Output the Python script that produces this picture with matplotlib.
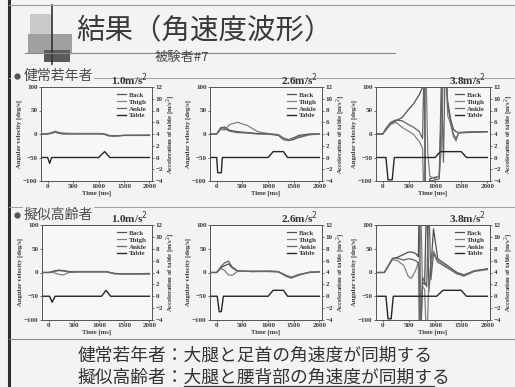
import matplotlib
matplotlib.use("Agg")
import matplotlib.pyplot as plt
from matplotlib.patches import Rectangle

W, H = 515, 387

# 健常若年者 1.0 m/s^2
t_y10 = [-150, 0, 100, 150, 200, 300, 500, 800, 1000, 1100, 1200, 1300, 1500, 2000]
back_y10 = [0, 0, 3, 5, 3, 1, 1, 1, 1, 0, -4, -4, -3, -3]
thigh_y10 = [0, 1, 4, 6, 4, 2, 1, 1, 1, 1, -3, -5, -3, -2]
ankle_y10 = [0, 0, 2, 4, 2, 0, 0, 0, 0, 0, -3, -4, -3, -3]
tt_y10 = [-150, 0, 40, 80, 1000, 1120, 1220, 2000]
table_y10 = [0, 0, -1.0, 0, 0, 1.0, 0, 0]

# 健常若年者 2.6 m/s^2
t_y26 = [-150, 0, 80, 150, 250, 400, 600, 800, 1000, 1200, 1300, 1400, 1500, 1600, 1800, 2000]
back_y26 = [0, 0, 12, 15, 8, 5, 3, 1, 0, -2, -10, -12, -8, -3, 0, 0]
thigh_y26 = [0, 0, 10, 8, 20, 25, 18, 5, 1, -1, -8, -12, -10, -8, -2, 0]
ankle_y26 = [0, 0, 14, 12, 6, 3, 2, 0, 0, -3, -12, -14, -12, -6, -1, 0]
tt_y26 = [-150, 0, 20, 90, 110, 1000, 1100, 1300, 1380, 2000]
table_y26 = [0, 0, -2.6, -2.6, 0, 0, 1.0, 1.0, 0, 0]

# 健常若年者 3.8 m/s^2
t_y38 = [-150, 0, 60, 150, 250, 370, 490, 580, 700, 760, 790, 820, 860, 900, 1000,
         1080, 1120, 1160, 1200, 1240, 1300, 1350, 1400, 1450, 1600, 1800, 2000]
back_y38 = [0, 0, 10, 22, 28, 35, 52, 63, 84, 100, 180, -160, -120, -95, -92,
            -90, 60, 160, 120, 70, 30, 10, 5, 3, 4, 5, 5]
thigh_y38 = [0, 0, 8, 20, 25, 14, 6, 0, -16, -30, -170, 170, -40, -90, -95,
             -88, -30, 150, 180, 40, 20, -5, -15, 3, 4, 4, 5]
ankle_y38 = [0, 0, 12, 25, 30, 28, 20, 15, 5, -10, 150, -150, -170, -100, -98,
             -95, 120, -60, 200, 60, 25, 0, -10, 2, 3, 4, 5]
tt_y38 = [-150, 60, 100, 180, 220, 1000, 1100, 1500, 1600, 2000]
table_y38 = [0, 0, -3.8, -3.8, 0, 0, 1.0, 1.0, 0, 0]

# 擬似高齢者 1.0 m/s^2
t_o10 = [-150, 0, 100, 200, 300, 400, 600, 1000, 1150, 1300, 1500, 2000]
back_o10 = [0, 0, 3, 5, 4, 2, 2, 2, 2, -2, -3, -3]
thigh_o10 = [0, 0, 0, -4, -5, 0, 2, 2, 2, -3, -3, -3]
ankle_o10 = [0, 0, 2, 4, 3, 1, 1, 1, 1, -2, -3, -2]
tt_o10 = [-150, 20, 70, 130, 1050, 1140, 1230, 2000]
table_o10 = [0, 0, -1.0, 0, 0, 1.0, 0, 0]

# 擬似高齢者 2.6 m/s^2
t_o26 = [-150, 0, 80, 150, 230, 300, 400, 700, 1000, 1200, 1350, 1450, 1600, 1800, 2000]
back_o26 = [0, 0, 10, 14, 18, 10, 3, 2, 3, 2, -6, -10, -5, 0, 2]
thigh_o26 = [0, 0, 8, 5, -5, -6, 2, 3, 3, 2, -8, -12, -6, 1, 2]
ankle_o26 = [0, 0, 12, 20, 24, 12, 4, 2, 2, 1, -7, -11, -4, 0, 1]
tt_o26 = [-150, 10, 50, 90, 130, 1000, 1100, 1300, 1380, 2000]
table_o26 = [0, 0, -2.6, -2.6, 0, 0, 1.0, 1.0, 0, 0]

# 擬似高齢者 3.8 m/s^2
t_o38 = [-150, 30, 185, 280, 400, 490, 550, 630, 680, 700, 720, 760, 800, 840,
         880, 920, 970, 1050, 1230, 1420, 1550, 1750, 2000]
back_o38 = [0, 0, 29, 32, 38, 43, 43, 40, 33, 180, -160, -20, -25, 170,
            -40, 10, 92, 29, 15, 0, -5, 3, 8]
thigh_o38 = [0, 0, 27, 25, 15, -9, -12, 5, 22, -170, 170, -30, -35, -160,
             -20, 20, 45, 25, 12, -2, -8, 2, 6]
ankle_o38 = [0, 0, 30, 30, 26, 29, 28, 25, 20, 10, -140, -10, -20, -30,
             150, -15, 40, 22, 10, -3, -6, 4, 7]
tt_o38 = [-150, 60, 100, 160, 200, 1030, 1150, 1500, 1600, 2000]
table_o38 = [0, 0, -3.8, -3.8, 0, 0, 1.0, 1.0, 0, 0]

titles = ["1.0m/s$^2$", "2.6m/s$^2$", "3.8m/s$^2$"]

JP = ["Noto Sans CJK JP", "DejaVu Sans"]
SERIF = {"family": "Liberation Serif", "weight": "bold"}
INK = "#3a3a3a"
PAPER = "#f3f3f1"

fig = plt.figure(figsize=(5.15, 3.87), dpi=100, facecolor=PAPER)

# slide background, frame and decorations in pixel coordinates
bg = fig.add_axes([0, 0, 1, 1])
bg.set_xlim(0, W)
bg.set_ylim(H, 0)
bg.axis("off")
bg.add_patch(Rectangle((30, 14), 22, 22, color="#cacaca", lw=0))
bg.add_patch(Rectangle((28, 34), 44, 20, color="#a0a0a0", lw=0))
bg.add_patch(Rectangle((44, 50), 26, 12, color="#5a5a5a", lw=0))
bg.plot([52, 52], [5, 64], color="#333333", lw=1.2)
bg.plot([25, 395], [53, 53], color="#8a8a8a", lw=0.8)
bg.plot([9, 9], [0, H], color="#2e2e2e", lw=2.2)
bg.plot([9, W], [5, 5], color="#9a9a9a", lw=0.8)
bg.plot([9, W], [78, 78], color="#a0a0a0", lw=0.7)
bg.plot([9, W], [207, 207], color="#a0a0a0", lw=0.7)
bg.plot([9, W], [339, 339], color="#8a8a8a", lw=0.8)

bg.text(76, 31, "結果（角速度波形）", family=JP, fontsize=20.5, color="#3a3a3a", va="center")
bg.text(155, 57, "被験者#7", family=JP, fontsize=9.5, color="#4a4a4a", va="center")

# group headings with small bullets
for yy, label in [(76, "健常若年者"), (215, "擬似高齢者")]:
    bg.text(24, yy, label, family=JP, fontsize=10, color="#4a4a4a", va="center",
            bbox=dict(facecolor=PAPER, edgecolor="none", pad=0.5))
    bg.add_patch(Rectangle((11, yy - 5), 12, 10, color=PAPER, lw=0, zorder=4))
    bg.plot([17], [yy], marker="o", ms=3.5, color="#555555", zorder=5)

bg.text(78, 356, "健常若年者：大腿と足首の角速度が同期する", family=JP, fontsize=12.8,
        color="#333333", va="center")
bg.text(78, 378, "擬似高齢者：大腿と腰背部の角速度が同期する", family=JP, fontsize=12.8,
        color="#333333", va="center")
bg.plot([184, 434], [386, 386], color="#333333", lw=0.9)


def panel(x0, y0, x1, y1, t, back, thigh, ankle, tt, table, title):
    ax = fig.add_axes([x0 / W, 1 - y1 / H, (x1 - x0) / W, (y1 - y0) / H])
    ax.set_facecolor("#f7f7f5")
    l1, = ax.plot(t, back, color="#505050", lw=0.9)
    l2, = ax.plot(t, thigh, color="#808080", lw=0.9)
    l3, = ax.plot(t, ankle, color="#646464", lw=0.9)
    ax.set_xlim(-130, 2050)
    ax.set_ylim(-100, 100)
    ax.set_xticks([0, 500, 1000, 1500, 2000])
    ax.set_yticks([-100, -50, 0, 50, 100])
    ax.set_xlabel("Time [ms]", fontsize=4.8, labelpad=1, color=INK, **SERIF)
    ax.set_ylabel("Angular velocity [deg/s]", fontsize=4.8, labelpad=1, color=INK, **SERIF)

    ax2 = ax.twinx()
    l4, = ax2.plot(tt, table, color="#262626", lw=1.0)
    ax2.set_ylim(-4, 12)
    ax2.set_yticks(range(-4, 13, 2))
    ax2.set_ylabel("Acceleration of table [m/s$^2$]", fontsize=4.8, labelpad=1,
                   color=INK, **SERIF)

    for a in (ax, ax2):
        a.tick_params(labelsize=5, length=1.5, width=0.5, pad=1, colors=INK)
        for lab in a.get_xticklabels() + a.get_yticklabels():
            lab.set_fontfamily(SERIF["family"])
            lab.set_fontweight("bold")
        for s in a.spines.values():
            s.set_linewidth(0.6)
            s.set_color("#555555")

    ax.legend([l1, l2, l3, l4], ["Back", "Thigh", "Ankle", "Table"], loc="upper right",
              frameon=False, handlelength=1.3, labelspacing=0.15, borderaxespad=0.3,
              handletextpad=0.4, prop={"family": SERIF["family"], "weight": "bold", "size": 5},
              labelcolor=INK)
    ax.text(0.96, 0.99, title, transform=ax.transAxes, ha="right", va="bottom",
            fontsize=8, color="#333333", **SERIF)
    return ax


panel(41, 87, 152, 181, t_y10, back_y10, thigh_y10, ankle_y10, tt_y10, table_y10, titles[0])
panel(210, 87, 322, 181, t_y26, back_y26, thigh_y26, ankle_y26, tt_y26, table_y26, titles[1])
panel(376, 87, 490, 181, t_y38, back_y38, thigh_y38, ankle_y38, tt_y38, table_y38, titles[2])
panel(42, 225, 152, 320, t_o10, back_o10, thigh_o10, ankle_o10, tt_o10, table_o10, titles[0])
panel(210, 225, 322, 320, t_o26, back_o26, thigh_o26, ankle_o26, tt_o26, table_o26, titles[1])
panel(376, 225, 490, 320, t_o38, back_o38, thigh_o38, ankle_o38, tt_o38, table_o38, titles[2])

fig.savefig("out.png", dpi=100, facecolor=fig.get_facecolor())
